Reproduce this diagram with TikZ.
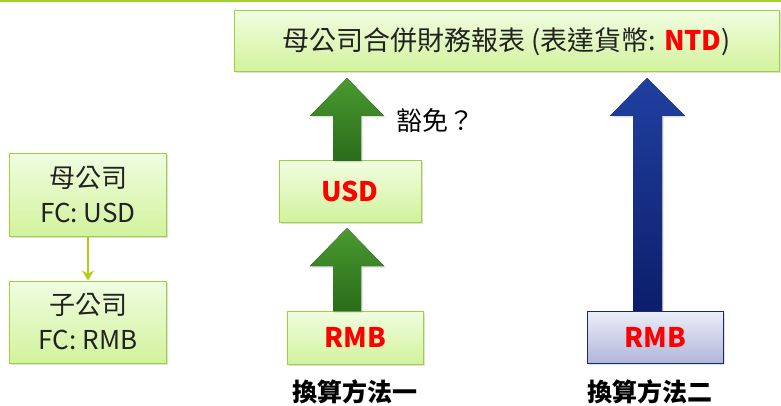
\documentclass[tikz,border=0pt]{standalone}
\usepackage{fontspec}
\setmainfont{Noto Sans CJK TC}
\usetikzlibrary{shadows,calc,arrows.meta}
\definecolor{gborder}{HTML}{9CD23C}
\definecolor{gtop}{HTML}{F0FDE0}
\definecolor{gbot}{HTML}{D2F29C}
\definecolor{btop}{HTML}{ECEEF8}
\definecolor{bbot}{HTML}{B0B6DA}
\definecolor{bborder}{HTML}{1A2A6E}
\definecolor{arrgtop}{HTML}{4A9A30}
\definecolor{arrgbot}{HTML}{2A6C1A}
\definecolor{arrbtop}{HTML}{2040A0}
\definecolor{arrbbot}{HTML}{0C1E6A}
\definecolor{linkc}{HTML}{B4CC14}
\definecolor{topline}{HTML}{A2D12A}
\definecolor{txt}{HTML}{222222}
\tikzset{
  gbox/.style={draw=gborder, line width=1pt, top color=gtop, bottom color=gbot,
    drop shadow={shadow xshift=1.5pt, shadow yshift=-1.5pt, opacity=0.25},
    text=txt, align=center, inner sep=0pt},
  bbox/.style={draw=bborder, line width=1pt, top color=btop, bottom color=bbot,
    drop shadow={shadow xshift=1.5pt, shadow yshift=-1.5pt, opacity=0.25},
    align=center, inner sep=0pt},
  garrow/.style={top color=arrgtop, bottom color=arrgbot, draw=none,
    drop shadow={shadow xshift=1.5pt, shadow yshift=-1.5pt, opacity=0.25}},
  barrow/.style={top color=arrbtop, bottom color=arrbbot, draw=none,
    drop shadow={shadow xshift=1.5pt, shadow yshift=-1.5pt, opacity=0.25}},
  big/.style={font=\fontsize{26}{35}\selectfont},
  red/.style={text=red, font=\fontsize{27}{35}\selectfont\bfseries},
  lbl/.style={font=\fontsize{25}{30}\selectfont\bfseries, text=black}
}
\begin{document}
\begin{tikzpicture}[x=1pt,y=-1pt]
\useasboundingbox (0,0) rectangle (781,406);
\fill[white] (0,0) rectangle (781,406);
\coordinate (tl) at (0,1);
\coordinate (tr) at (781,1);
\draw[topline, line width=2pt] (tl) -- (tr);

% title
\node[gbox, font=\fontsize{27}{35}\selectfont, minimum width=545, minimum height=61] (title) at (506.5,41.5)
  {母公司合併財務報表 (表達貨幣: \textcolor{red}{\bfseries NTD})};

% left hierarchy
\node[gbox, big, minimum width=157, minimum height=83] (parent) at (88,195)
  {母公司\\FC: USD};
\node[gbox, big, minimum width=157, minimum height=82] (child) at (88,322)
  {子公司\\FC: RMB};
\draw[linkc, line width=2.5pt, -{Stealth[length=10pt,width=12pt]}] (parent.south) -- (child.north);

% method 1
\node[gbox, red, minimum width=142, minimum height=61] (usd) at (350,191.5) {USD};
\node[gbox, red, minimum width=136, minimum height=53] (rmb1) at (355,337.5) {RMB};
\fill[garrow] (333,161) -- (333,116) -- (310,116) -- (347,78) -- (384,116) -- (361,116) -- (361,161) -- cycle;
\fill[garrow] (333,311) -- (333,266) -- (310,266) -- (347,228) -- (384,266) -- (361,266) -- (361,311) -- cycle;
\node[font=\fontsize{26}{30}\selectfont, text=black, anchor=west, inner sep=0pt] (exempt) at (396,121) {豁免？};
\node[lbl] (m1) at (355,392) {換算方法一};

% method 2
\fill[barrow] (633,311) -- (633,116) -- (610,116) -- (647,78) -- (685,116) -- (662,116) -- (662,311) -- cycle;
\node[bbox, red, minimum width=136, minimum height=52] (rmb2) at (655,337) {RMB};
\node[lbl] (m2) at (650,392) {換算方法二};
\end{tikzpicture}
\end{document}
